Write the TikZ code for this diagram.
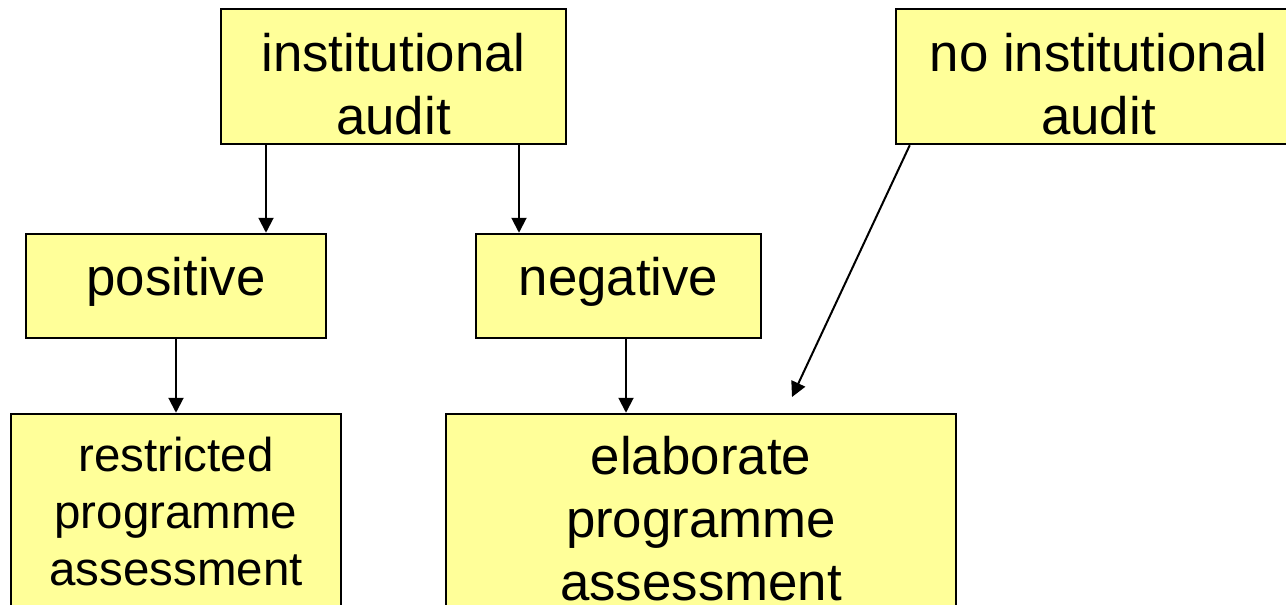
\documentclass[tikz,border=0pt]{standalone}
\usepackage{fontspec}
\setmainfont{Liberation Sans}
\usetikzlibrary{arrows.meta}
\definecolor{boxyellow}{RGB}{255,255,153}
\begin{document}
\begin{tikzpicture}[x=1pt,y=-1pt,
  box/.style={draw=black,fill=boxyellow,line width=2.5pt,inner sep=0pt,rectangle},
  big/.style={font=\fontsize{52.8}{63}\selectfont,inner sep=0pt,align=center},
  small/.style={font=\fontsize{47.5}{57.2}\selectfont,inner sep=0pt,align=center},
  conn/.style={line width=2pt,-{Triangle[width=15pt,length=15pt]}}]
\useasboundingbox (0,0) rectangle (1286,605);
\clip (0,0) rectangle (1286,605);
% boxes
\node[box,minimum width=345pt,minimum height=135pt] (ia) at (393.5,76.5) {};
\node[box,minimum width=405pt,minimum height=135pt] (nia) at (1098.5,76.5) {};
\node[box,minimum width=300pt,minimum height=104pt] (pos) at (176,286) {};
\node[box,minimum width=285pt,minimum height=104pt] (neg) at (618.5,286) {};
\node[box,minimum width=330pt,minimum height=206pt] (res) at (176,517) {};
\node[box,minimum width=510pt,minimum height=226pt] (ela) at (701,527) {};
% texts
\node[big,anchor=north] (tia) at (393.5,33.2) {institutional\\audit};
\node[big,anchor=north] (tnia) at (1098.5,33.2) {no institutional\\audit};
\node[big,anchor=base] (tpos) at (176,295) {positive};
\node[big,anchor=base] (tneg) at (618.5,295) {negative};
\node[small,anchor=north] (tres) at (176,436.5) {restricted\\programme\\assessment};
\node[big,anchor=north] (tela) at (701,436.2) {elaborate\\programme\\assessment};
% connectors
\coordinate (dend) at (792,397);
\draw[conn] ([xshift=-127.5pt]ia.south) -- ([xshift=90pt]pos.north);
\draw[conn] ([xshift=125.5pt]ia.south) -- ([xshift=-99.5pt]neg.north);
\draw[conn] (pos.south) -- (res.north);
\draw[conn] ([xshift=7.5pt]neg.south) -- ([xshift=-75pt]ela.north);
\draw[conn] ([xshift=15pt]nia.south west) -- (dend);
\end{tikzpicture}
\end{document}
